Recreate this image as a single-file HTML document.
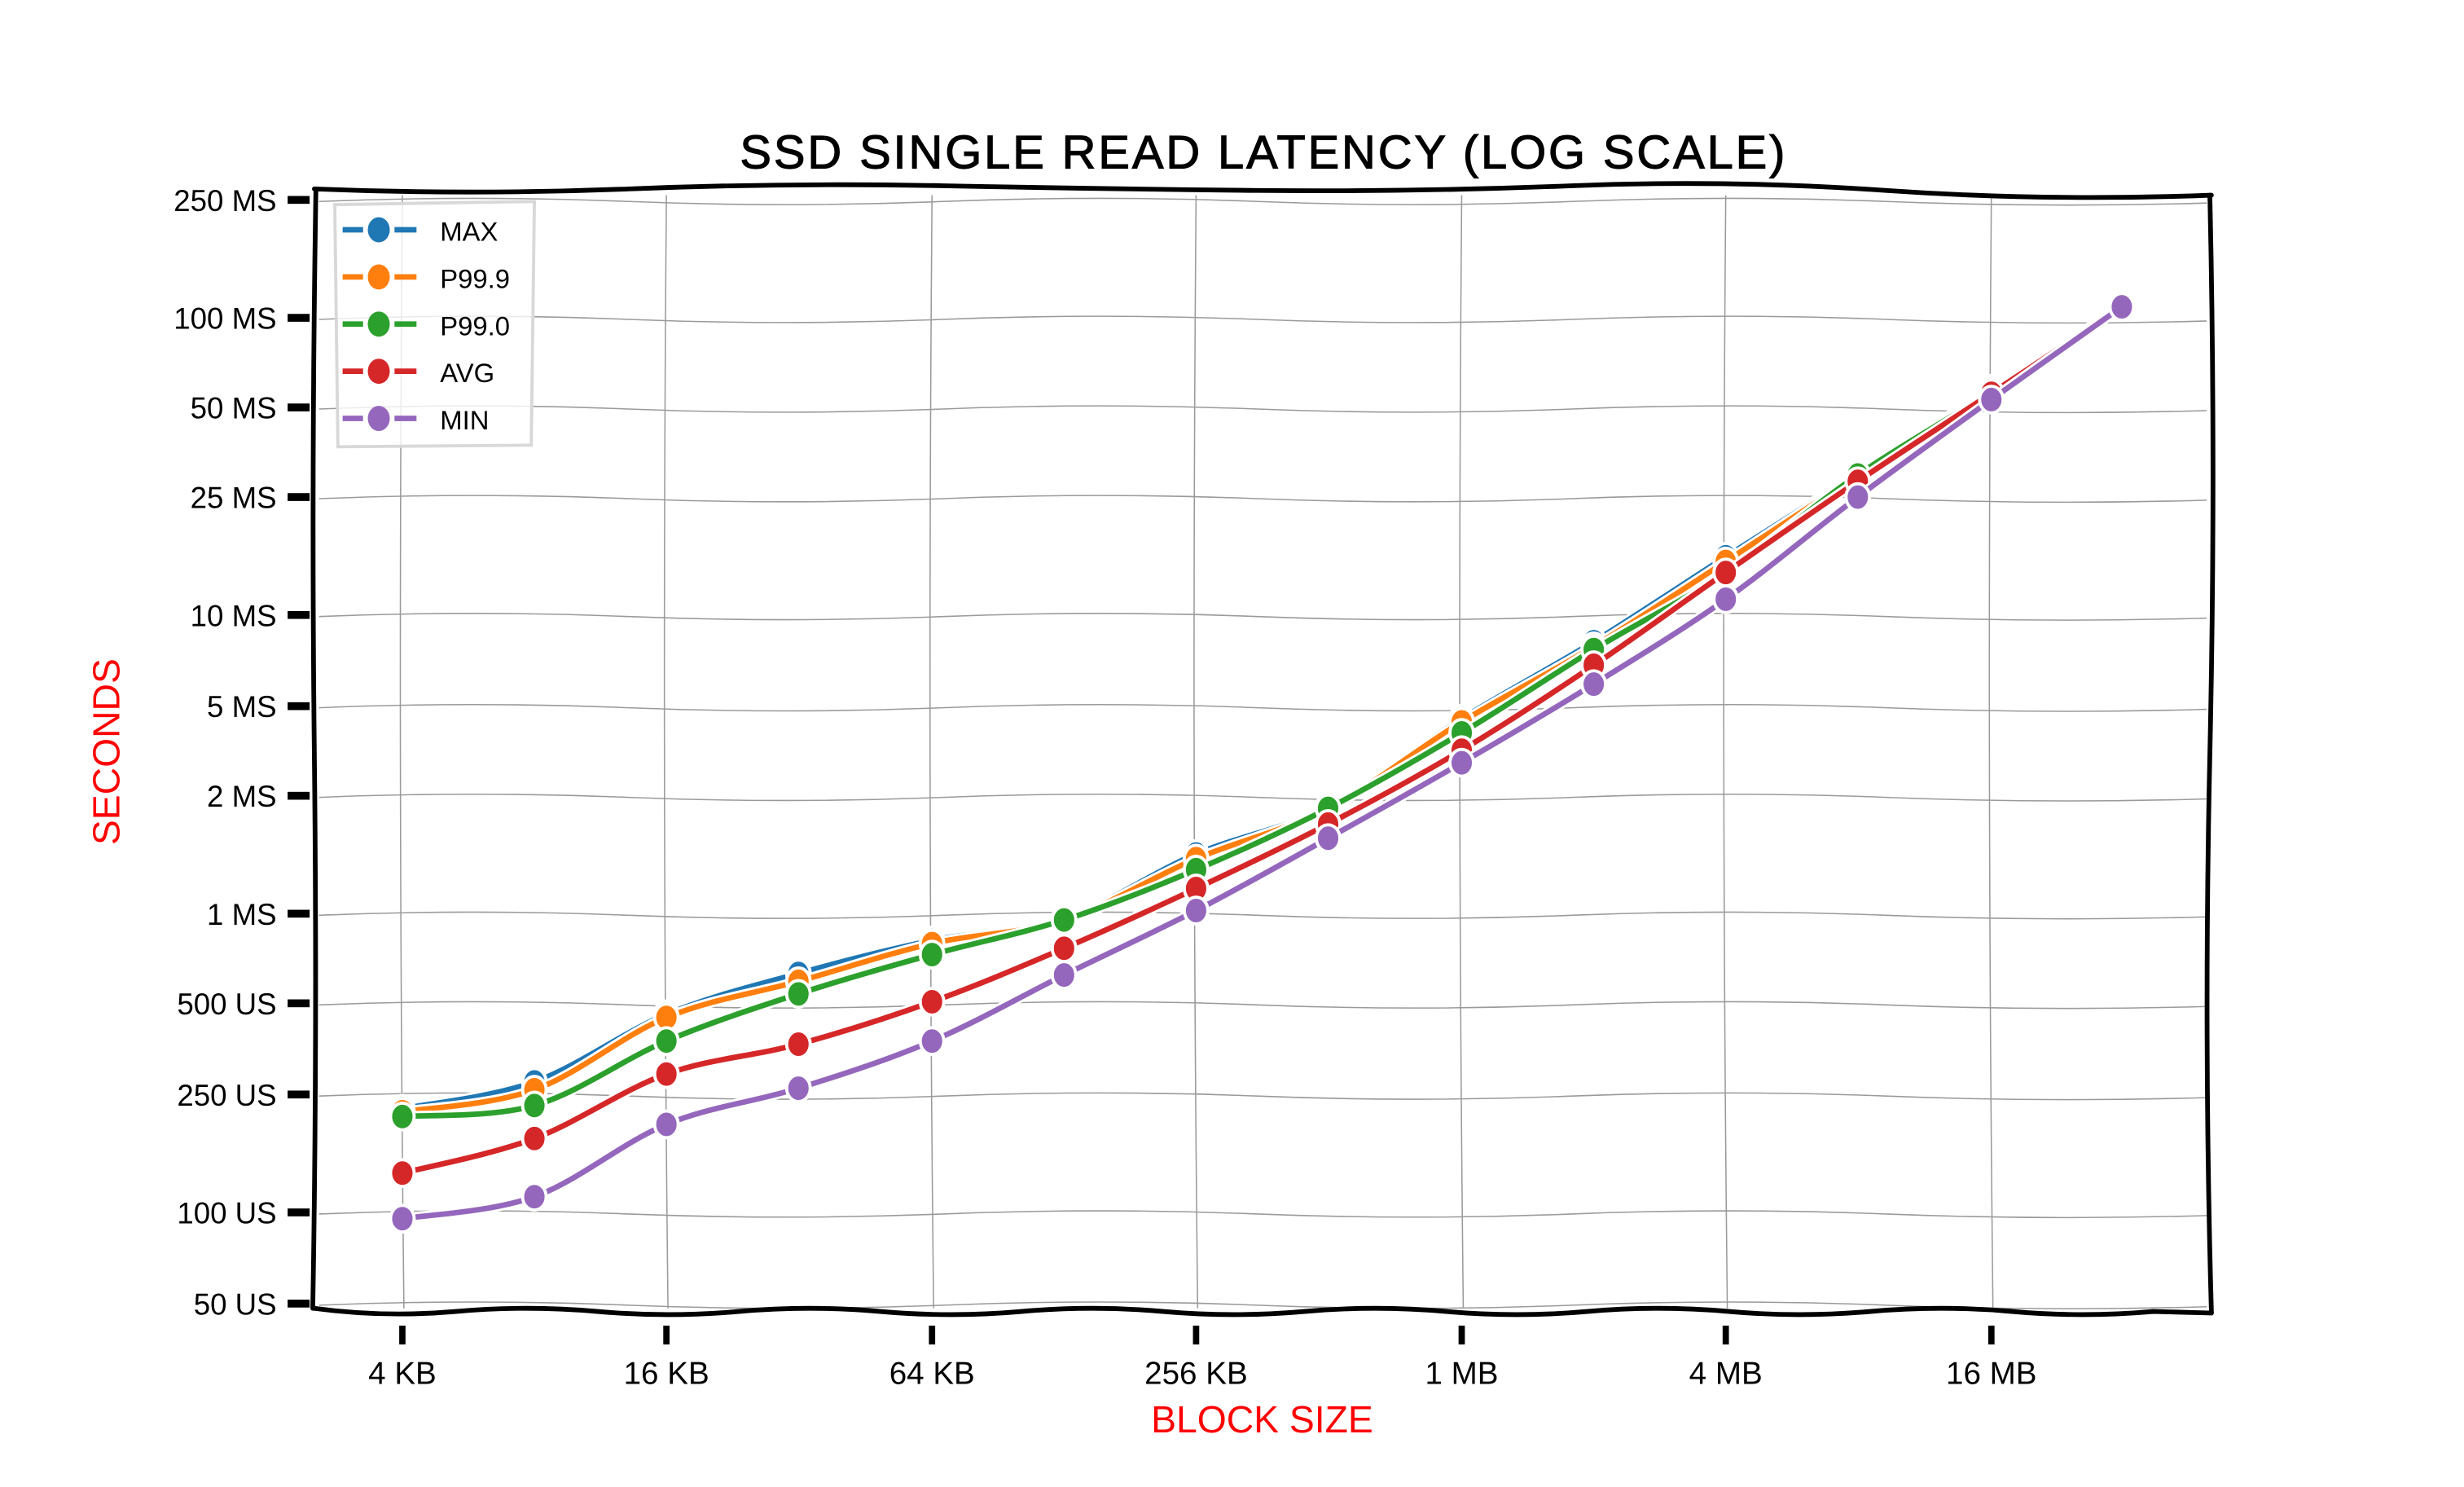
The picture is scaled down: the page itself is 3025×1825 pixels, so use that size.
<!DOCTYPE html>
<html><head><meta charset="utf-8"><style>
html,body{margin:0;padding:0;background:#fff;}
svg{display:block;}
text{font-family:"Liberation Sans Narrow","Liberation Sans",sans-serif;}
</style></head><body>
<svg id="s" width="3025" height="1825" viewBox="0 0 1567.7 945.5" xmlns="http://www.w3.org/2000/svg">
<rect width="1600" height="960" fill="#fff"/>
<g id="grid" stroke="#9a9a9a" stroke-width="0.8" fill="none"></g>
<g id="series"></g>
<g stroke="#000" stroke-width="3" fill="none" stroke-linecap="round">
<path d="M200,120 Q300,124 400,120 T600,118 T800,121 T1000,118 T1200,121 T1407,124"/>
<path d="M200,832 Q245,838 290,834 T380,834 T470,834 T560,834 T650,834 T740,834 T830,834 T920,834 T1010,834 T1100,834 T1190,834 T1280,834 T1370,834 L1407,835"/>
<path d="M201,120 Q198,300 200,480 T199,832"/>
<path d="M1406,124 Q1410,300 1406,480 T1407,835"/>
</g>
<g id="ticks" fill="#000"></g>
<g font-size="19" text-anchor="end" fill="#000">
<text x="176" y="134">250 MS</text>
<text x="176" y="209">100 MS</text>
<text x="176" y="266">50 MS</text>
<text x="176" y="323">25 MS</text>
<text x="176" y="398">10 MS</text>
<text x="176" y="456">5 MS</text>
<text x="176" y="513">2 MS</text>
<text x="176" y="588">1 MS</text>
<text x="176" y="645">500 US</text>
<text x="176" y="703">250 US</text>
<text x="176" y="778">100 US</text>
<text x="176" y="836">50 US</text>
</g>
<g font-size="20" text-anchor="middle" fill="#000">
<text x="256" y="880">4 KB</text>
<text x="424" y="880">16 KB</text>
<text x="593" y="880">64 KB</text>
<text x="761" y="880">256 KB</text>
<text x="930" y="880">1 MB</text>
<text x="1098" y="880">4 MB</text>
<text x="1267" y="880">16 MB</text>
</g>
<text x="803" y="911" font-size="24" text-anchor="middle" fill="#ff0000">BLOCK SIZE</text>
<text x="0" y="0" font-size="24" text-anchor="middle" fill="#ff0000" transform="translate(76,478) rotate(-90)">SECONDS</text>
<text x="804" y="107" font-size="30" text-anchor="middle" fill="#000" letter-spacing="1.5" stroke="#000" stroke-width="0.6">SSD SINGLE READ LATENCY (LOG SCALE)</text>
<path d="M213,130 L340,128 L338,283 L215,284 Z" fill="#fff" fill-opacity="0.8" stroke="#d8d8d8" stroke-width="2"/>
<g id="legend" font-size="17" fill="#000"></g>
</svg>
<script>
var NS="http://www.w3.org/2000/svg";
function el(t,a,p){var e=document.createElementNS(NS,t);for(var k in a)e.setAttribute(k,a[k]);p.appendChild(e);return e;}
var grid=document.getElementById('grid'),ticks=document.getElementById('ticks'),ser=document.getElementById('series'),leg=document.getElementById('legend');
var ys=[127,202,259,316,391,449,506,581,638,696,771,829];
ys.forEach(function(y){
 el('path',{d:'M203,'+(y+1)+' Q300,'+(y-3)+' 400,'+(y+1)+' T600,'+(y+1)+' T800,'+(y+1)+' T1000,'+(y+1)+' T1200,'+(y+1)+' T1404,'+(y+2)},grid);
 el('rect',{x:183,y:y-2.5,width:14,height:5},ticks);
});
var xt=[256,424,593,761,930,1098,1267];
xt.forEach(function(x){
 el('path',{d:'M'+x+',124 Q'+(x-3)+',480 '+(x+1)+',832'},grid);
 el('rect',{x:x-2,y:843,width:4,height:12},ticks);
});
var xs=[256,340,424,508,593,677,761,845,930,1014,1098,1182,1267,1350];
var S=[
 ['#1f77b4',[705,688,645,619,598,584,543,513,457,408,354,301,247,195],'MAX'],
 ['#ff7f0e',[707,693,647,624,600,585,546,514,459,411,357,302,248,195],'P99.9'],
 ['#2ca02c',[710,703,662,632,607,585,553,514,466,413,364,302,249,195],'P99.0'],
 ['#d62728',[746,724,683,664,637,603,565,524,477,423,364,306,250,195],'AVG'],
 ['#9467bd',[775,761,715,692,662,620,579,533,485,435,381,316,254,195],'MIN']
];
function smooth(pts){
 var d='M'+pts[0][0]+','+pts[0][1];
 for(var i=0;i<pts.length-1;i++){
  var p0=pts[i-1]||pts[i],p1=pts[i],p2=pts[i+1],p3=pts[i+2]||p2;
  var c1x=p1[0]+(p2[0]-p0[0])/6,c1y=p1[1]+(p2[1]-p0[1])/6,c2x=p2[0]-(p3[0]-p1[0])/6,c2y=p2[1]-(p3[1]-p1[1])/6;
  d+=' C'+c1x+','+c1y+' '+c2x+','+c2y+' '+p2[0]+','+p2[1];
 }
 return d;
}
S.forEach(function(s,k){
 var pts=xs.map(function(x,i){return [x,s[1][i]];});
 var d=smooth(pts);
 el('path',{d:d,fill:'none',stroke:'#fff','stroke-width':6.5,'stroke-linejoin':'round'},ser);
 el('path',{d:d,fill:'none',stroke:s[0],'stroke-width':3.5,'stroke-linejoin':'round'},ser);
 pts.forEach(function(p){el('ellipse',{cx:p[0],cy:p[1],rx:7.5,ry:8.5,fill:s[0],stroke:'#fff','stroke-width':2},ser);});
 var y=146+30*k;
 el('path',{d:'M218,'+y+' L231,'+y+' M251,'+y+' L265,'+y,stroke:s[0],'stroke-width':3.5,fill:'none'},leg);
 el('ellipse',{cx:241,cy:y,rx:7,ry:8,fill:s[0]},leg);
 var t=el('text',{x:280,y:y+7},leg);t.textContent=s[2];
});
</script>
</body></html>
